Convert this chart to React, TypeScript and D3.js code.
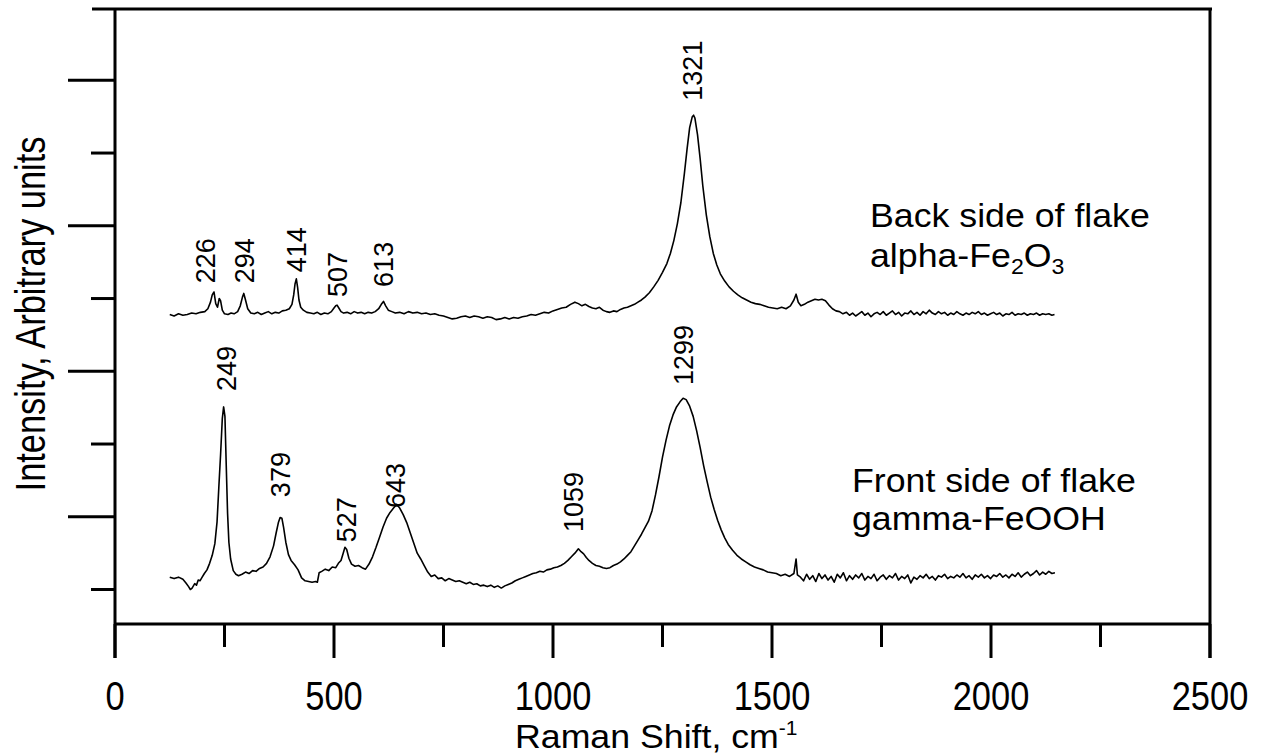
import React from "react";
import * as d3 from "d3";

// ---------- data ----------
const xMajorTicks = [0, 500, 1000, 1500, 2000, 2500];
const xMinorTicks = [250, 750, 1250, 1750, 2250];
const yMajorTicks = [1, 3, 5, 7];
const yMinorTicks = [0, 2, 4, 6];

// Back side of flake (alpha-Fe2O3): [Raman shift cm-1, intensity a.u.]
const backSpectrum: [number, number][] = [
  [125, 3.78], [135, 3.76], [145, 3.79], [155, 3.77], [165, 3.78], [175, 3.80], [185, 3.79], [195, 3.81],
  [205, 3.82], [212, 3.86], [218, 3.95], [222, 4.05], [226, 4.09], [230, 3.93], [234, 3.88], [238, 4.00],
  [241, 3.97], [245, 3.84], [250, 3.79], [258, 3.78], [265, 3.80], [272, 3.79], [280, 3.82], [286, 3.90],
  [291, 4.02], [294, 4.07], [298, 3.98], [303, 3.86], [310, 3.80], [318, 3.79], [326, 3.81], [334, 3.78],
  [342, 3.80], [350, 3.82], [358, 3.79], [366, 3.81], [374, 3.80], [382, 3.83], [390, 3.84], [398, 3.86],
  [404, 3.92], [408, 4.05], [411, 4.20], [414, 4.27], [417, 4.15], [420, 3.98], [424, 3.88], [430, 3.84],
  [438, 3.81], [446, 3.80], [454, 3.79], [462, 3.81], [470, 3.78], [478, 3.80], [486, 3.79], [494, 3.82],
  [500, 3.87], [504, 3.90], [507, 3.91], [511, 3.87], [516, 3.82], [522, 3.80], [530, 3.81], [538, 3.79],
  [546, 3.82], [554, 3.80], [562, 3.81], [570, 3.79], [578, 3.81], [586, 3.80], [594, 3.82], [602, 3.86],
  [608, 3.92], [613, 3.96], [618, 3.90], [624, 3.84], [632, 3.82], [640, 3.80], [650, 3.81], [660, 3.79],
  [670, 3.82], [680, 3.80], [690, 3.81], [700, 3.79], [710, 3.80], [720, 3.78], [730, 3.79], [740, 3.77],
  [750, 3.76], [760, 3.74], [770, 3.72], [780, 3.73], [790, 3.75], [800, 3.76], [810, 3.74], [820, 3.76],
  [830, 3.75], [840, 3.73], [850, 3.75], [860, 3.74], [870, 3.71], [880, 3.72], [890, 3.74], [900, 3.72],
  [910, 3.74], [920, 3.73], [930, 3.75], [940, 3.76], [950, 3.78], [960, 3.77], [970, 3.79], [980, 3.81],
  [990, 3.80], [1000, 3.83], [1010, 3.85], [1020, 3.87], [1030, 3.88], [1040, 3.92], [1050, 3.95], [1058, 3.93],
  [1066, 3.90], [1074, 3.92], [1082, 3.89], [1090, 3.87], [1098, 3.86], [1106, 3.88], [1114, 3.84], [1122, 3.82],
  [1130, 3.81], [1138, 3.83], [1146, 3.82], [1154, 3.85], [1162, 3.87], [1170, 3.88], [1178, 3.90], [1186, 3.92],
  [1194, 3.95], [1202, 3.98], [1210, 4.02], [1220, 4.08], [1230, 4.16], [1240, 4.25], [1250, 4.36], [1260, 4.48],
  [1268, 4.62], [1276, 4.80], [1284, 5.03], [1292, 5.32], [1300, 5.72], [1306, 6.05], [1312, 6.35], [1318, 6.50],
  [1321, 6.52], [1324, 6.48], [1330, 6.25], [1336, 5.92], [1342, 5.55], [1350, 5.15], [1358, 4.85], [1366, 4.62],
  [1374, 4.46], [1382, 4.34], [1392, 4.24], [1402, 4.16], [1412, 4.10], [1422, 4.05], [1432, 4.01], [1442, 3.98],
  [1452, 3.95], [1462, 3.93], [1472, 3.92], [1482, 3.90], [1492, 3.88], [1502, 3.87], [1512, 3.86], [1522, 3.88],
  [1532, 3.86], [1542, 3.90], [1550, 3.98], [1555, 4.06], [1560, 3.95], [1566, 3.90], [1574, 3.92], [1582, 3.95],
  [1590, 3.97], [1598, 3.99], [1606, 3.98], [1614, 3.99], [1622, 3.97], [1630, 3.91], [1638, 3.86], [1646, 3.83],
  [1654, 3.82], [1662, 3.79], [1670, 3.81], [1677, 3.77], [1684, 3.80], [1691, 3.76], [1698, 3.79], [1705, 3.82],
  [1712, 3.77], [1719, 3.80], [1726, 3.75], [1733, 3.79], [1740, 3.81], [1747, 3.78], [1754, 3.82], [1761, 3.77],
  [1768, 3.80], [1775, 3.83], [1782, 3.78], [1789, 3.81], [1796, 3.76], [1803, 3.80], [1810, 3.79], [1817, 3.83],
  [1824, 3.78], [1831, 3.81], [1838, 3.77], [1845, 3.82], [1852, 3.79], [1859, 3.84], [1866, 3.80], [1873, 3.78],
  [1880, 3.82], [1887, 3.79], [1894, 3.81], [1901, 3.77], [1908, 3.80], [1915, 3.78], [1922, 3.82], [1929, 3.79],
  [1936, 3.77], [1943, 3.80], [1950, 3.78], [1957, 3.81], [1964, 3.79], [1971, 3.82], [1978, 3.78], [1985, 3.80],
  [1992, 3.77], [1999, 3.79], [2006, 3.81], [2013, 3.78], [2020, 3.80], [2027, 3.76], [2034, 3.79], [2041, 3.78],
  [2048, 3.81], [2055, 3.77], [2062, 3.79], [2069, 3.78], [2076, 3.80], [2083, 3.77], [2090, 3.79], [2097, 3.78],
  [2104, 3.80], [2111, 3.77], [2118, 3.79], [2125, 3.78], [2132, 3.79], [2139, 3.77], [2145, 3.78],
];

// Front side of flake (gamma-FeOOH)
const frontSpectrum: [number, number][] = [
  [125, 0.17], [135, 0.15], [145, 0.17], [155, 0.14], [162, 0.09], [168, 0.04], [172, 0.00], [176, 0.02],
  [182, 0.08], [186, 0.06], [190, 0.13], [194, 0.12], [198, 0.16], [204, 0.22], [210, 0.27], [216, 0.36],
  [222, 0.47], [228, 0.63], [233, 0.93], [237, 1.40], [241, 1.85], [245, 2.35], [248, 2.51], [251, 2.38],
  [254, 1.70], [257, 1.05], [260, 0.65], [264, 0.42], [270, 0.26], [276, 0.21], [282, 0.19], [290, 0.21],
  [298, 0.24], [306, 0.22], [314, 0.26], [322, 0.25], [330, 0.29], [338, 0.31], [346, 0.36], [354, 0.45],
  [362, 0.60], [368, 0.78], [373, 0.92], [377, 0.99], [381, 0.98], [385, 0.85], [390, 0.65], [396, 0.48],
  [402, 0.40], [410, 0.34], [418, 0.27], [426, 0.16], [434, 0.12], [442, 0.11], [450, 0.10], [458, 0.11],
  [462, 0.10], [466, 0.23], [472, 0.25], [480, 0.28], [488, 0.26], [496, 0.31], [504, 0.30], [510, 0.36],
  [516, 0.40], [521, 0.50], [525, 0.58], [529, 0.55], [534, 0.43], [540, 0.35], [548, 0.32], [556, 0.33],
  [564, 0.30], [572, 0.28], [580, 0.35], [588, 0.45], [596, 0.58], [604, 0.72], [612, 0.86], [620, 0.98],
  [628, 1.06], [636, 1.12], [643, 1.17], [650, 1.12], [658, 1.03], [666, 0.92], [674, 0.78], [682, 0.64],
  [690, 0.50], [698, 0.42], [706, 0.33], [714, 0.24], [722, 0.18], [730, 0.20], [738, 0.15], [746, 0.16],
  [754, 0.12], [762, 0.15], [770, 0.13], [778, 0.11], [786, 0.12], [794, 0.10], [802, 0.08], [810, 0.10],
  [818, 0.07], [826, 0.08], [834, 0.05], [842, 0.06], [850, 0.04], [858, 0.06], [866, 0.03], [874, 0.05],
  [882, 0.02], [890, 0.05], [898, 0.07], [906, 0.09], [914, 0.12], [922, 0.14], [930, 0.16], [938, 0.18],
  [946, 0.20], [954, 0.22], [962, 0.23], [970, 0.25], [978, 0.24], [986, 0.27], [994, 0.28], [1002, 0.30],
  [1010, 0.31], [1018, 0.33], [1026, 0.36], [1034, 0.40], [1042, 0.45], [1050, 0.50], [1058, 0.56], [1064, 0.52],
  [1070, 0.49], [1076, 0.44], [1082, 0.40], [1090, 0.36], [1098, 0.33], [1106, 0.32], [1114, 0.30], [1122, 0.29],
  [1130, 0.30], [1138, 0.33], [1146, 0.35], [1154, 0.38], [1162, 0.42], [1170, 0.47], [1178, 0.52], [1186, 0.60],
  [1194, 0.68], [1202, 0.76], [1210, 0.85], [1218, 0.94], [1226, 1.08], [1234, 1.30], [1242, 1.55], [1250, 1.82],
  [1258, 2.05], [1266, 2.25], [1274, 2.40], [1282, 2.51], [1290, 2.58], [1297, 2.63], [1304, 2.61], [1312, 2.52],
  [1320, 2.38], [1328, 2.18], [1336, 1.95], [1344, 1.70], [1352, 1.48], [1360, 1.27], [1368, 1.10], [1376, 0.95],
  [1384, 0.82], [1392, 0.71], [1400, 0.62], [1410, 0.54], [1420, 0.47], [1430, 0.42], [1440, 0.38], [1450, 0.34],
  [1460, 0.31], [1470, 0.29], [1480, 0.27], [1490, 0.24], [1500, 0.23], [1510, 0.22], [1520, 0.19], [1530, 0.21],
  [1540, 0.18], [1550, 0.22], [1555, 0.42], [1558, 0.20], [1565, 0.17], [1572, 0.12], [1579, 0.21], [1586, 0.14],
  [1593, 0.19], [1600, 0.11], [1607, 0.22], [1614, 0.15], [1621, 0.20], [1628, 0.13], [1635, 0.18], [1642, 0.10],
  [1649, 0.21], [1656, 0.16], [1663, 0.23], [1670, 0.12], [1677, 0.19], [1684, 0.14], [1691, 0.20], [1698, 0.16],
  [1705, 0.22], [1712, 0.13], [1719, 0.18], [1726, 0.15], [1733, 0.21], [1740, 0.12], [1747, 0.17], [1754, 0.20],
  [1761, 0.14], [1768, 0.19], [1775, 0.16], [1782, 0.22], [1789, 0.13], [1796, 0.18], [1803, 0.15], [1810, 0.20],
  [1817, 0.09], [1824, 0.17], [1831, 0.14], [1838, 0.19], [1845, 0.16], [1852, 0.21], [1859, 0.15], [1866, 0.18],
  [1873, 0.13], [1880, 0.19], [1887, 0.17], [1894, 0.21], [1901, 0.15], [1908, 0.18], [1915, 0.16], [1922, 0.20],
  [1929, 0.17], [1936, 0.22], [1943, 0.16], [1950, 0.19], [1957, 0.14], [1964, 0.20], [1971, 0.17], [1978, 0.21],
  [1985, 0.16], [1992, 0.19], [1999, 0.15], [2006, 0.20], [2013, 0.18], [2020, 0.22], [2027, 0.17], [2034, 0.20],
  [2041, 0.16], [2048, 0.21], [2055, 0.18], [2062, 0.23], [2069, 0.17], [2076, 0.21], [2083, 0.24], [2090, 0.19],
  [2097, 0.22], [2104, 0.26], [2111, 0.20], [2118, 0.24], [2125, 0.21], [2132, 0.25], [2139, 0.22], [2146, 0.23],
];

// peak labels: text, x position (cm-1), y of label start (a.u.)
const backPeakLabels: [string, number, number][] = [
  ["226", 205, 4.21], ["294", 294, 4.21], ["414", 414, 4.36], ["507", 507, 4.02], ["613", 613, 4.16], ["1321", 1319, 6.72],
];
const frontPeakLabels: [string, number, number][] = [
  ["249", 253, 2.73], ["379", 378, 1.27], ["527", 527, 0.65], ["643", 639, 1.12], ["1059", 1046, 0.79], ["1299", 1297, 2.81],
];

const xTitle = "Raman Shift, cm";
const xTitleSup = "-1";
const yTitle = "Intensity, Arbitrary units";

// ---------- layout ----------
const W = 1262;
const H = 755;
const left = 115;
const right = 1210;
const top = 9;
const bottom = 624;
const FONT = "'Liberation Sans', Arial, Helvetica, sans-serif";

export default function App() {
  const x = d3.scaleLinear().domain([0, 2500]).range([left, right]);
  const y = d3.scaleLinear().domain([-0.474, 7.98]).range([bottom, top]);
  const line = d3
    .line<[number, number]>()
    .x((d) => x(d[0]))
    .y((d) => y(d[1]));

  const black = "#000";
  return (
    <svg
      width={W}
      height={H}
      viewBox={`0 0 ${W} ${H}`}
      style={{ position: "absolute", left: 0, top: 0, background: "#fff" }}
    >
      <rect x={0} y={0} width={W} height={H} fill="#fff" />
      {/* frame */}
      <line x1={92} x2={right + 2} y1={top} y2={top} stroke={black} strokeWidth={3} />
      <line x1={left} x2={left} y1={top} y2={bottom + 34} stroke={black} strokeWidth={3} />
      <line x1={right} x2={right} y1={top} y2={bottom + 34} stroke={black} strokeWidth={3} />
      <line x1={left} x2={right} y1={bottom} y2={bottom} stroke={black} strokeWidth={3} />

      {/* x ticks */}
      {xMajorTicks.map((t) => (
        <line key={"xM" + t} x1={x(t)} x2={x(t)} y1={bottom} y2={bottom + 34} stroke={black} strokeWidth={3} />
      ))}
      {xMinorTicks.map((t) => (
        <line key={"xm" + t} x1={x(t)} x2={x(t)} y1={bottom} y2={bottom + 23} stroke={black} strokeWidth={3} />
      ))}
      {xMajorTicks.map((t) => (
        <text
          key={"xl" + t}
          transform={`translate(${x(t)},710) scale(0.84,1)`}
          textAnchor="middle"
          fontFamily={FONT}
          fontSize={41}
          fill={black}
        >
          {t}
        </text>
      ))}

      {/* y ticks */}
      {yMajorTicks.map((t) => (
        <line key={"yM" + t} x1={left - 47} x2={left} y1={y(t)} y2={y(t)} stroke={black} strokeWidth={3} />
      ))}
      {yMinorTicks.map((t) => (
        <line key={"ym" + t} x1={left - 24} x2={left} y1={y(t)} y2={y(t)} stroke={black} strokeWidth={3} />
      ))}

      {/* axis titles */}
      <text transform="translate(515,748) scale(1.05,1)" fontFamily={FONT} fontSize={34} fill={black}>
        {xTitle}
        <tspan fontSize={20} dy={-13}>
          {xTitleSup}
        </tspan>
      </text>
      <text
        transform={`translate(45,314) rotate(-90) scale(0.8,1)`}
        textAnchor="middle"
        fontFamily={FONT}
        fontSize={43}
        fill={black}
      >
        {yTitle}
      </text>

      {/* spectra */}
      <path d={line(backSpectrum) || ""} fill="none" stroke={black} strokeWidth={1.6} strokeLinejoin="round" />
      <path d={line(frontSpectrum) || ""} fill="none" stroke={black} strokeWidth={1.6} strokeLinejoin="round" />

      {/* peak labels */}
      {[...backPeakLabels, ...frontPeakLabels].map(([lab, px, py], i) => (
        <text
          key={"pl" + i}
          transform={`translate(${x(px)},${y(py)}) rotate(-90)`}
          dy="0.36em"
          fontFamily={FONT}
          fontSize={27}
          fill={black}
        >
          {lab}
        </text>
      ))}

      {/* annotations */}
      <g fontFamily={FONT} fontSize={34} fill={black}>
        <text transform="translate(870,227) scale(1.05,1)">Back side of flake</text>
        <text transform="translate(870,267) scale(1.05,1)">
          alpha-Fe
          <tspan fontSize={22} dy={7}>2</tspan>
          <tspan dy={-7}>O</tspan>
          <tspan fontSize={22} dy={7}>3</tspan>
        </text>
        <text transform="translate(852,492) scale(1.05,1)">Front side of flake</text>
        <text transform="translate(852,530) scale(1.05,1)">gamma-FeOOH</text>
      </g>
    </svg>
  );
}
